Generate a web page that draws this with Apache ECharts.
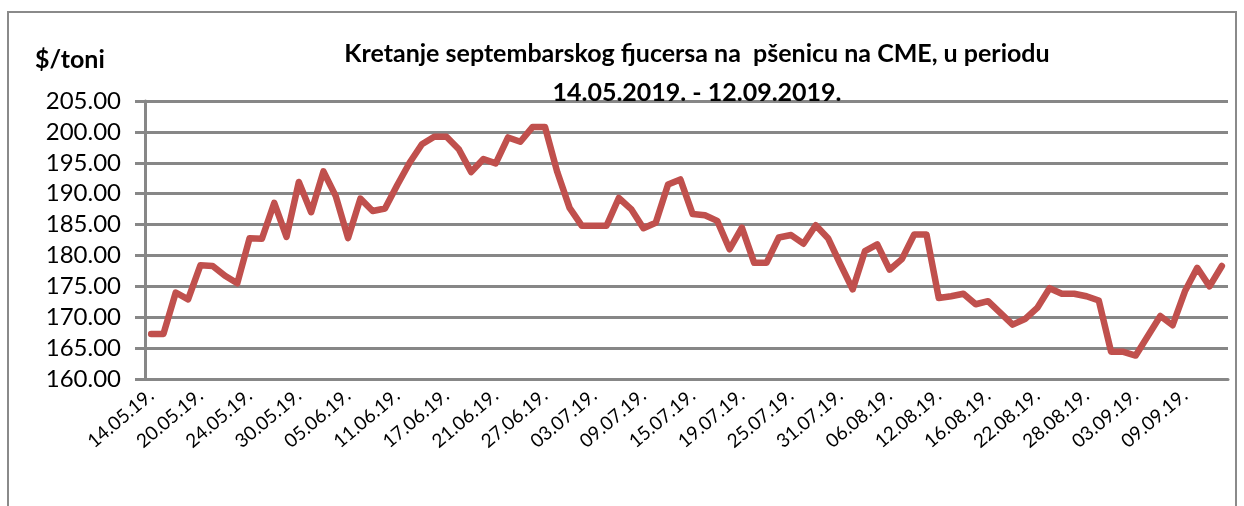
<!DOCTYPE html>
<html>
<head>
<meta charset="utf-8">
<script src="https://cdn.jsdelivr.net/npm/echarts@6/dist/echarts.min.js"></script>
<style>
html,body{margin:0;padding:0;background:#fff;}
#c{width:1244px;height:506px;}
</style>
</head>
<body>
<div id="c"></div>
<script>
const categories = [
"14.05.19.","15.05.19.","16.05.19.","17.05.19.","20.05.19.","21.05.19.","22.05.19.","23.05.19.","24.05.19.","27.05.19.","28.05.19.","29.05.19.","30.05.19.","31.05.19.",
"03.06.19.","04.06.19.","05.06.19.","06.06.19.","07.06.19.","10.06.19.","11.06.19.","12.06.19.","13.06.19.","14.06.19.","17.06.19.","18.06.19.","19.06.19.","20.06.19.","21.06.19.","24.06.19.","25.06.19.","26.06.19.","27.06.19.","28.06.19.",
"01.07.19.","02.07.19.","03.07.19.","04.07.19.","05.07.19.","08.07.19.","09.07.19.","10.07.19.","11.07.19.","12.07.19.","15.07.19.","16.07.19.","17.07.19.","18.07.19.","19.07.19.","22.07.19.","23.07.19.","24.07.19.","25.07.19.","26.07.19.","29.07.19.","30.07.19.","31.07.19.",
"01.08.19.","02.08.19.","05.08.19.","06.08.19.","07.08.19.","08.08.19.","09.08.19.","12.08.19.","13.08.19.","14.08.19.","15.08.19.","16.08.19.","19.08.19.","20.08.19.","21.08.19.","22.08.19.","23.08.19.","26.08.19.","27.08.19.","28.08.19.","29.08.19.","30.08.19.",
"02.09.19.","03.09.19.","04.09.19.","05.09.19.","06.09.19.","09.09.19.","10.09.19.","11.09.19.","12.09.19."
];
const prices = [
167.3,167.3,174.0,172.9,178.4,178.3,176.7,175.5,182.8,182.7,188.5,183.0,191.9,187.0,
193.6,189.6,182.8,189.2,187.2,187.6,191.4,195.0,198.0,199.2,199.2,197.2,193.5,195.6,194.9,199.1,198.4,200.8,200.8,193.5,
187.7,184.8,184.8,184.8,189.3,187.5,184.4,185.3,191.5,192.3,186.7,186.5,185.6,181.0,184.5,178.8,178.8,182.9,183.3,181.9,184.9,182.8,178.6,
174.5,180.7,181.8,177.7,179.4,183.4,183.4,173.1,173.4,173.8,172.1,172.6,170.7,168.8,169.7,171.5,174.7,173.8,173.8,173.4,172.7,164.4,
164.4,163.8,167.0,170.2,168.7,174.2,178.0,175.0,178.3
];
const titleLine1 = "Kretanje septembarskog fjucersa na  pšenicu na CME, u periodu";
const titleLine2 = "14.05.2019. - 12.09.2019.";
const unitLabel = "$/toni";
const yMin = 160, yMax = 205, yStep = 5;

const gray = '#878787';
const chart = echarts.init(document.getElementById('c'));
chart.setOption({
  animation: false,
  backgroundColor: '#fff',
  grid: {left: 145, right: 16, top: 101, bottom: 127},
  graphic: [
    {type: 'rect', z: -10, shape: {x: 8, y: 12, width: 1228, height: 520},
     style: {fill: 'none', stroke: '#8a8a8a', lineWidth: 2}},
    {type: 'text', z: 100, style: {x: 35, y: 47, text: unitLabel, verticalAlign: 'top',
      font: 'bold 25px Lato', fill: '#000'}},
    {type: 'text', z: 100, style: {x: 697, y: 41, text: titleLine1, align: 'center', verticalAlign: 'top',
      font: 'bold 25px Lato', fill: '#000'}},
    {type: 'text', z: 100, style: {x: 697, y: 80, text: titleLine2, align: 'center', verticalAlign: 'top',
      font: 'bold 25px Lato', fill: '#000'}}
  ],
  xAxis: {
    type: 'category',
    data: categories,
    boundaryGap: true,
    axisLine: {show: true, lineStyle: {color: gray, width: 3}},
    axisTick: {show: false},
    axisLabel: {interval: 3, rotate: 40, fontFamily: 'Lato', fontSize: 19, color: '#000', margin: 14}
  },
  yAxis: {
    type: 'value',
    min: yMin, max: yMax, interval: yStep,
    axisLine: {show: true, lineStyle: {color: gray, width: 3}},
    axisTick: {show: true, length: 10, lineStyle: {color: gray, width: 3}},
    splitLine: {show: true, lineStyle: {color: gray, width: 3}},
    axisLabel: {fontFamily: 'Lato', fontSize: 24, color: '#000', margin: 24,
      formatter: v => v.toFixed(2)}
  },
  series: [{
    type: 'line',
    data: prices,
    showSymbol: false,
    symbol: 'none',
    lineStyle: {color: '#c0504d', width: 6.5, join: 'round', cap: 'round'},
    z: 5
  }]
});
</script>
</body>
</html>
